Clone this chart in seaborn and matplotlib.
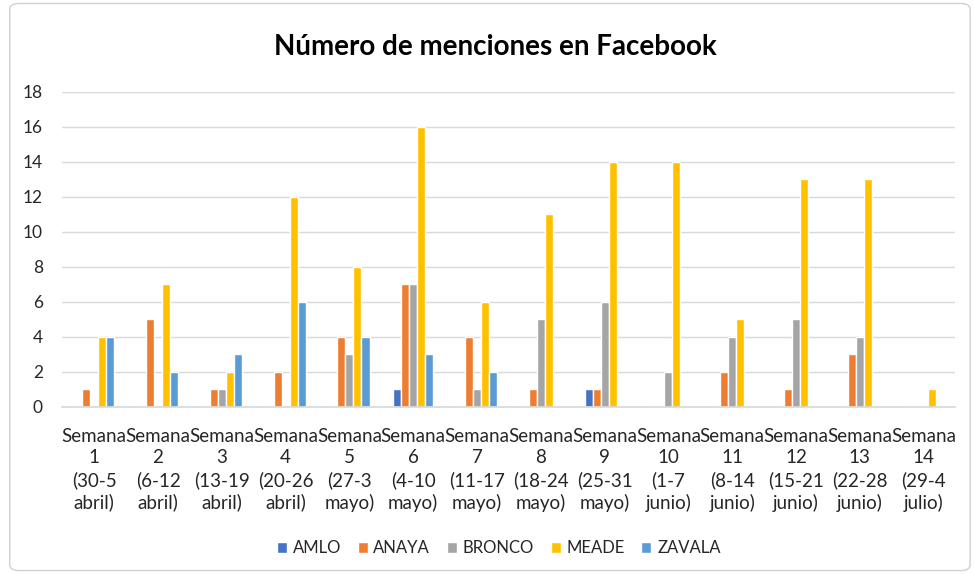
import matplotlib
matplotlib.use("Agg")
import matplotlib.pyplot as plt
import seaborn as sns
import pandas as pd
from matplotlib.patches import FancyBboxPatch

weeks = ["Semana\n1\n(30-5\nabril)", "Semana\n2\n(6-12\nabril)", "Semana\n3\n(13-19\nabril)",
         "Semana\n4\n(20-26\nabril)", "Semana\n5\n(27-3\nmayo)", "Semana\n6\n(4-10\nmayo)",
         "Semana\n7\n(11-17\nmayo)", "Semana\n8\n(18-24\nmayo)", "Semana\n9\n(25-31\nmayo)",
         "Semana\n10\n(1-7\njunio)", "Semana\n11\n(8-14\njunio)", "Semana\n12\n(15-21\njunio)",
         "Semana\n13\n(22-28\njunio)", "Semana\n14\n(29-4\njulio)"]
candidates = ["AMLO", "ANAYA", "BRONCO", "MEADE", "ZAVALA"]
amlo   = [0, 0, 0, 0, 0, 1, 0, 0, 1, 0, 0, 0, 0, 0]
anaya  = [1, 5, 1, 2, 4, 7, 4, 1, 1, 0, 2, 1, 3, 0]
bronco = [0, 0, 1, 0, 3, 7, 1, 5, 6, 2, 4, 5, 4, 0]
meade  = [4, 7, 2, 12, 8, 16, 6, 11, 14, 14, 5, 13, 13, 1]
zavala = [4, 2, 3, 6, 4, 3, 2, 0, 0, 0, 0, 0, 0, 0]
colors = ["#4472C4", "#ED7D31", "#A5A5A5", "#FFC000", "#5B9BD5"]

series = [amlo, anaya, bronco, meade, zavala]
rows = []
for cand, vals in zip(candidates, series):
    for w, v in zip(weeks, vals):
        rows.append({"Semana": w, "Candidato": cand, "Menciones": v})
df = pd.DataFrame(rows)

sns.set_theme(style="white")
plt.rcParams["font.family"] = ["Lato", "DejaVu Sans"]

fig = plt.figure(figsize=(9.74, 5.74), dpi=100)
ax = fig.add_axes([0.064, 0.291, 0.917, 0.549])
sns.barplot(data=df, x="Semana", y="Menciones", hue="Candidato", order=weeks,
            hue_order=candidates, palette=colors, width=0.63, saturation=1,
            errorbar=None, ax=ax, legend=True)

ax.set_ylim(0, 18)
ax.set_yticks(range(0, 19, 2))
ax.set_xlim(-0.5, len(weeks) - 0.5)
ax.yaxis.grid(True, color="#D9D9D9", linewidth=1)
ax.set_axisbelow(True)
for s in ["top", "right", "left"]:
    ax.spines[s].set_visible(False)
ax.spines["bottom"].set_color("#D9D9D9")
ax.set_xlabel("")
ax.set_ylabel("")
ax.tick_params(axis="y", labelsize=12.5, colors="#262626", length=0, pad=14)
ax.tick_params(axis="x", labelsize=13.5, colors="#262626", length=0, pad=15)
for lbl in ax.get_xticklabels():
    lbl.set_linespacing(1.32)

fig.text(0.509, 0.918, "Número de menciones en Facebook", ha="center", va="center",
         fontsize=20, fontweight="bold", color="#000000")

handles, labels = ax.get_legend_handles_labels()
ax.legend_.remove()
fig.legend(handles, labels, loc="center", bbox_to_anchor=(0.512, 0.045), ncol=5,
           frameon=False, fontsize=12, handlelength=0.6, handleheight=0.6,
           handletextpad=0.35, columnspacing=1.0)

border = FancyBboxPatch((0.01, 0.006), 0.986, 0.988, boxstyle="round,pad=0,rounding_size=0.01",
                        transform=fig.transFigure, fill=False, edgecolor="#D0D0D0", linewidth=1)
fig.patches.append(border)

fig.savefig("out.png", dpi=100)
